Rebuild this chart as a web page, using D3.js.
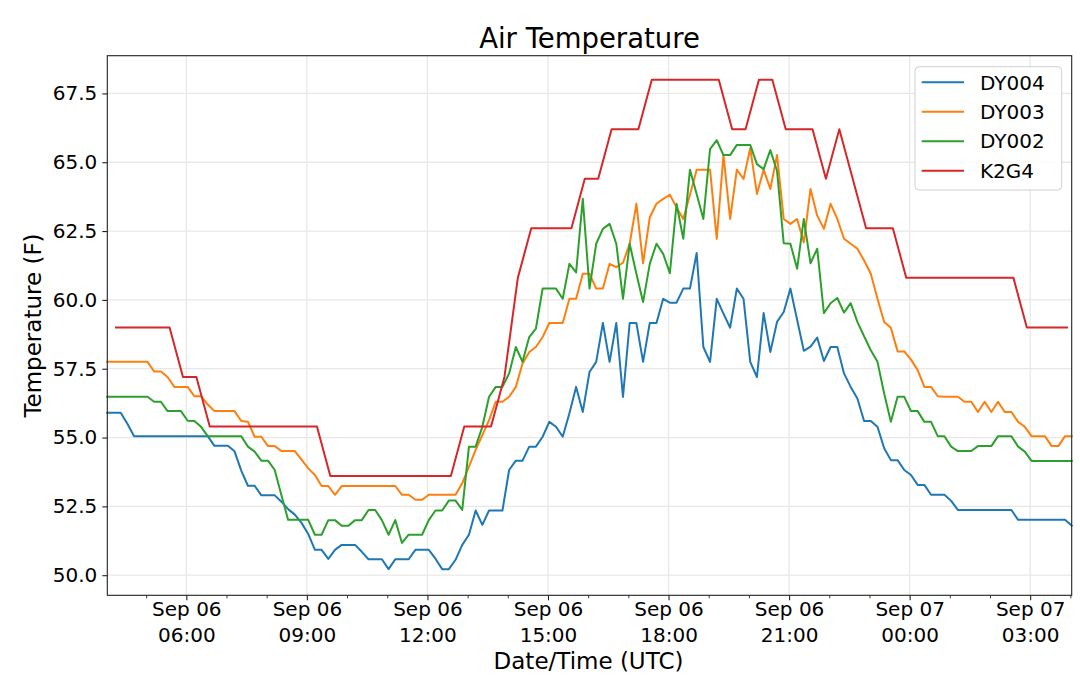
<!DOCTYPE html>
<html>
<head>
<meta charset="utf-8">
<script src="https://cdn.jsdelivr.net/npm/d3@7"></script>
<style>
  html, body { margin: 0; padding: 0; background: #fff; }
  svg { display: block; font-family: "DejaVu Sans", sans-serif; }
</style>
</head>
<body>
<svg id="chart" width="1080" height="686"></svg>
<script>
// ---------------- DATA ----------------
const seriesNames = ["DY004", "DY003", "DY002", "K2G4"];
const seriesColors = ["#1f77b4", "#ff7f0e", "#2ca02c", "#d62728"];

// DY sensors: one reading every 10 minutes starting Sep 06 04:02 UTC
const dyStart = "2021-09-06T04:02:00Z";
const dyStepMinutes = 10;
// K2G4 station: one reading every 20 minutes starting Sep 06 04:15 UTC
const k2g4Start = "2021-09-06T04:15:00Z";
const k2g4StepMinutes = 20;

const dy004 = [
  55.9, 55.9, 55.9, 55.5, 55.05, 55.05, 55.05, 55.05, 55.05, 55.05,
  55.05, 55.05, 55.05, 55.05, 55.05, 55.05, 54.7, 54.7, 54.7, 54.5,
  53.8, 53.25, 53.25, 52.9, 52.9, 52.9, 52.67, 52.4, 52.2, 51.9,
  51.5, 50.92, 50.92, 50.59, 50.92, 51.1, 51.1, 51.1, 50.85, 50.58,
  50.58, 50.58, 50.22, 50.58, 50.58, 50.58, 50.92, 50.92, 50.92, 50.6,
  50.22, 50.22, 50.56, 51.1, 51.47, 52.35, 51.83, 52.35, 52.35, 52.35,
  53.82, 54.16, 54.16, 54.67, 54.67, 55.03, 55.57, 55.39, 55.03, 55.88,
  56.84, 55.93, 57.38, 57.75, 59.16, 57.75, 59.16, 56.48, 59.16, 59.16,
  57.75, 59.16, 59.16, 60.04, 59.9, 59.9, 60.41, 60.41, 61.7, 58.29,
  57.75, 60.04, 59.5, 58.99, 60.41, 60.04, 57.75, 57.2, 59.52, 58.11,
  59.2, 59.56, 60.41, 59.28, 58.15, 58.3, 58.63, 57.78, 58.29, 58.29,
  57.33, 56.84, 56.42, 55.6, 55.6, 55.39, 54.61, 54.18, 54.18, 53.82,
  53.64, 53.28, 53.28, 52.92, 52.92, 52.92, 52.7, 52.37, 52.37, 52.37,
  52.37, 52.37, 52.37, 52.37, 52.37, 52.37, 52.01, 52.01, 52.01, 52.01,
  52.01, 52.01, 52.01, 52.01, 51.8
];

const dy003 = [
  57.75, 57.75, 57.75, 57.75, 57.75, 57.75, 57.75, 57.4, 57.4, 57.2,
  56.84, 56.84, 56.84, 56.5, 56.5, 56.2, 55.96, 55.96, 55.96, 55.96,
  55.6, 55.57, 55.03, 55.03, 54.69, 54.69, 54.51, 54.51, 54.51, 54.2,
  53.88, 53.64, 53.24, 53.24, 52.92, 53.24, 53.24, 53.24, 53.24, 53.24,
  53.24, 53.24, 53.24, 53.24, 52.92, 52.92, 52.74, 52.74, 52.92, 52.92,
  52.92, 52.92, 52.92, 53.34, 53.94, 54.55, 55.09, 55.63, 56.3, 56.3,
  56.48, 56.84, 57.69, 58.11, 58.29, 58.65, 59.16, 59.16, 59.16, 60.04,
  60.04, 60.95, 60.95, 60.41, 60.41, 61.31, 61.19, 61.35, 62.04, 63.49,
  61.33, 63.0, 63.49, 63.67, 63.82, 63.36, 62.94, 63.82, 64.73, 64.73,
  64.73, 62.22, 65.26, 62.94, 64.73, 64.39, 65.51, 63.85, 64.73, 64.03,
  65.26, 62.94, 62.76, 62.94, 62.09, 64.03, 63.06, 62.58, 63.49, 62.94,
  62.22, 62.04, 61.86, 61.43, 60.95, 60.04, 59.2, 58.99, 58.13, 58.13,
  57.83, 57.45, 56.84, 56.84, 56.5, 56.48, 56.48, 56.48, 56.3, 56.3,
  55.93, 56.3, 55.93, 56.3, 55.93, 55.93, 55.57, 55.39, 55.05, 55.05,
  55.05, 54.69, 54.69, 55.05, 55.05
];

const dy002 = [
  56.48, 56.48, 56.48, 56.48, 56.48, 56.48, 56.48, 56.3, 56.3, 55.96,
  55.96, 55.96, 55.61, 55.6, 55.39, 55.05, 55.05, 55.05, 55.05, 55.05,
  55.05, 54.67, 54.49, 54.16, 54.16, 53.82, 52.9, 52.01, 52.01, 52.01,
  52.01, 51.47, 51.47, 52.0, 52.0, 51.8, 51.8, 52.0, 52.0, 52.37,
  52.37, 52.0, 51.47, 52.0, 51.17, 51.47, 51.47, 51.47, 52.0, 52.35,
  52.35, 52.71, 52.71, 52.37, 54.67, 54.67, 55.39, 56.48, 56.84, 56.84,
  57.33, 58.29, 57.75, 58.65, 58.96, 60.41, 60.41, 60.41, 60.04, 61.31,
  61.0, 63.67, 60.41, 62.04, 62.58, 62.76, 62.04, 60.04, 62.04, 60.95,
  59.92, 61.31, 62.04, 61.67, 60.97, 63.49, 62.22, 64.73, 63.85, 62.94,
  65.48, 65.8, 65.26, 65.26, 65.63, 65.63, 65.63, 64.93, 64.75, 65.44,
  64.69, 62.06, 62.04, 61.13, 62.94, 61.33, 61.86, 59.52, 59.88, 60.07,
  59.54, 59.88, 59.2, 58.68, 58.17, 57.75, 56.6, 55.57, 56.48, 56.48,
  55.96, 55.96, 55.57, 55.57, 55.05, 55.05, 54.67, 54.51, 54.51, 54.51,
  54.69, 54.69, 54.69, 55.05, 55.05, 55.05, 54.67, 54.49, 54.15, 54.15,
  54.15, 54.15, 54.15, 54.15, 54.15
];

const k2g4 = [
  59.0, 59.0, 59.0, 59.0, 59.0, 57.2, 57.2, 55.4, 55.4, 55.4,
  55.4, 55.4, 55.4, 55.4, 55.4, 55.4, 53.6, 53.6, 53.6, 53.6,
  53.6, 53.6, 53.6, 53.6, 53.6, 53.6, 55.4, 55.4, 55.4, 57.2,
  60.8, 62.6, 62.6, 62.6, 62.6, 64.4, 64.4, 66.2, 66.2, 66.2,
  68.0, 68.0, 68.0, 68.0, 68.0, 68.0, 66.2, 66.2, 68.0, 68.0,
  66.2, 66.2, 66.2, 64.4, 66.2, 64.4, 62.6, 62.6, 62.6, 60.8,
  60.8, 60.8, 60.8, 60.8, 60.8, 60.8, 60.8, 60.8, 59.0, 59.0,
  59.0, 59.0
];

const xDomainLabels = ["2021-09-06T04:02:00Z", "2021-09-07T04:02:00Z"];
const yDomainValues = [49.27, 68.87];
const yTickValues = [50.0, 52.5, 55.0, 57.5, 60.0, 62.5, 65.0, 67.5];

const titleText = "Air Temperature";
const xLabelText = "Date/Time (UTC)";
const yLabelText = "Temperature (F)";

// ---------------- BUILD ----------------
const parse = d3.utcParse("%Y-%m-%dT%H:%M:%SZ");
function buildSeries(values, start, stepMin) {
  const t0 = parse(start);
  return values.map((v, i) => ({ t: d3.utcMinute.offset(t0, i * stepMin), v }));
}
const allSeries = [
  buildSeries(dy004, dyStart, dyStepMinutes),
  buildSeries(dy003, dyStart, dyStepMinutes),
  buildSeries(dy002, dyStart, dyStepMinutes),
  buildSeries(k2g4, k2g4Start, k2g4StepMinutes)
];

const W = 1080, H = 686;
const m = { left: 107.3, right: 1071.7, top: 55.7, bottom: 595.3 };
const FONT = '"DejaVu Sans", sans-serif';

const svg = d3.select("#chart");
svg.append("rect").attr("width", W).attr("height", H).attr("fill", "#fff");

const x = d3.scaleUtc().domain(xDomainLabels.map(parse)).range([m.left, m.right]);
const y = d3.scaleLinear().domain(yDomainValues).range([m.bottom, m.top]);

const majorX = d3.utcHour.range(x.domain()[0], x.domain()[1]).filter(d => d.getUTCHours() % 3 === 0);
const minorX = d3.utcHour.range(x.domain()[0], x.domain()[1]).filter(d => d.getUTCHours() % 3 !== 0);

// grid
const grid = svg.append("g");
grid.selectAll(".gx").data(majorX).join("line")
  .attr("x1", d => x(d)).attr("x2", d => x(d))
  .attr("y1", m.top).attr("y2", m.bottom)
  .attr("stroke", "#e8e8e8").attr("stroke-width", 1.3);
grid.selectAll(".gy").data(yTickValues).join("line")
  .attr("x1", m.left).attr("x2", m.right)
  .attr("y1", d => y(d)).attr("y2", d => y(d))
  .attr("stroke", "#e8e8e8").attr("stroke-width", 1.3);

// lines
const line = d3.line().x(d => x(d.t)).y(d => y(d.v));
svg.append("g").selectAll("path").data(allSeries).join("path")
  .attr("d", line)
  .attr("fill", "none")
  .attr("stroke", (d, i) => seriesColors[i])
  .attr("stroke-width", 2)
  .attr("stroke-linejoin", "round")
  .attr("stroke-linecap", "square");

// spines
svg.append("rect")
  .attr("x", m.left).attr("y", m.top)
  .attr("width", m.right - m.left).attr("height", m.bottom - m.top)
  .attr("fill", "none").attr("stroke", "#222").attr("stroke-width", 1.1);

// y axis
const yAxis = svg.append("g").attr("transform", `translate(${m.left},0)`)
  .call(d3.axisLeft(y).tickValues(yTickValues).tickFormat(d3.format(".1f")).tickSize(5).tickPadding(5).tickSizeOuter(0));
yAxis.select(".domain").remove();
yAxis.selectAll(".tick line").attr("stroke", "#222").attr("stroke-width", 1.1);
yAxis.selectAll(".tick text").attr("font-family", FONT).attr("font-size", 20).attr("fill", "#000");

// x axis major
const fmtDay = d3.utcFormat("%b %d");
const fmtHour = d3.utcFormat("%H:%M");
const xAxis = svg.append("g").attr("transform", `translate(0,${m.bottom})`)
  .call(d3.axisBottom(x).tickValues(majorX).tickFormat(() => "").tickSize(5).tickSizeOuter(0));
xAxis.select(".domain").remove();
xAxis.selectAll(".tick line").attr("stroke", "#222").attr("stroke-width", 1.1);
xAxis.selectAll(".tick").each(function(d) {
  const t = d3.select(this).select("text")
    .attr("font-family", FONT).attr("font-size", 20).attr("fill", "#000")
    .attr("y", 0).attr("dy", null);
  t.text(null);
  t.append("tspan").attr("x", 0).attr("y", 21).text(fmtDay(d));
  t.append("tspan").attr("x", 0).attr("y", 47).text(fmtHour(d));
});

// x axis minor ticks
const xMinor = svg.append("g").attr("transform", `translate(0,${m.bottom})`)
  .call(d3.axisBottom(x).tickValues(minorX).tickFormat(() => "").tickSize(3).tickSizeOuter(0));
xMinor.select(".domain").remove();
xMinor.selectAll(".tick line").attr("stroke", "#222").attr("stroke-width", 0.9);

// title and labels
svg.append("text").attr("x", (m.left + m.right) / 2).attr("y", 48)
  .attr("text-anchor", "middle").attr("font-family", FONT).attr("font-size", 27.5)
  .attr("fill", "#000").text(titleText);
svg.append("text").attr("x", (m.left + m.right) / 2 - 1).attr("y", 669)
  .attr("text-anchor", "middle").attr("font-family", FONT).attr("font-size", 23)
  .attr("fill", "#000").text(xLabelText);
svg.append("text")
  .attr("transform", `translate(41,${(m.top + m.bottom) / 2}) rotate(-90)`)
  .attr("text-anchor", "middle").attr("font-family", FONT).attr("font-size", 23)
  .attr("fill", "#000").text(yLabelText);

// legend
const lg = svg.append("g");
lg.append("rect").attr("x", 915).attr("y", 66.7).attr("width", 146.7).attr("height", 123.3)
  .attr("rx", 4).attr("fill", "#fff").attr("fill-opacity", 0.85)
  .attr("stroke", "#d0d0d0").attr("stroke-width", 1);
const rowY = d3.scalePoint().domain(seriesNames).range([82.3, 170.7]);
seriesNames.forEach((name, i) => {
  lg.append("line").attr("x1", 921.7).attr("x2", 964).attr("y1", rowY(name)).attr("y2", rowY(name))
    .attr("stroke", seriesColors[i]).attr("stroke-width", 2);
  lg.append("text").attr("x", 980).attr("y", rowY(name) + 7.2)
    .attr("font-family", FONT).attr("font-size", 20).attr("fill", "#000").text(name);
});
</script>
</body>
</html>
